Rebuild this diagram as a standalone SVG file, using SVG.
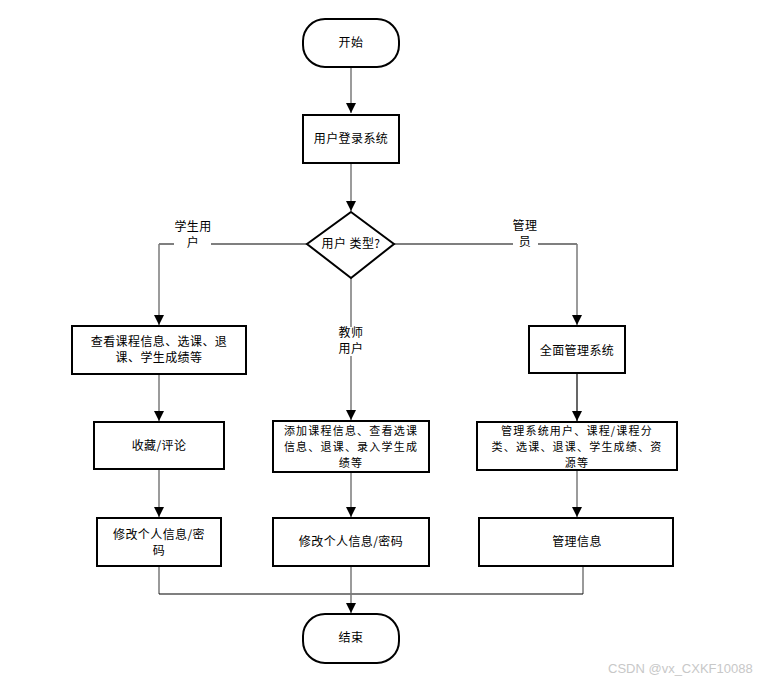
<svg xmlns="http://www.w3.org/2000/svg" width="765" height="682" viewBox="0 0 765 682">
<style>
.box{fill:#fff;stroke:#000;stroke-width:2}
.t{font-family:"Noto Sans CJK SC","Liberation Sans",sans-serif;font-size:12px;fill:#000;text-anchor:middle;letter-spacing:0.4px}
.s{font-size:11px;letter-spacing:1.2px}
.v{fill:none;stroke:#7a7a7a;stroke-width:1.5}
.h{fill:none;stroke:#000;stroke-width:1.2}
.wm{font-family:"Liberation Sans",sans-serif;font-size:13px;fill:#c8c8c8}
</style>
<defs>
<marker id="arrd" markerUnits="userSpaceOnUse" markerWidth="10" markerHeight="11" refX="10" refY="5" orient="auto" viewBox="0 0 10 10">
<path d="M0,0 L10,5 L0,10 Z" fill="#000"/>
</marker>
</defs>
<rect width="765" height="682" fill="#fff"/>
<g id="connectors">
<path class="v" d="M351,67 V113" marker-end="url(#arrd)"/>
<path class="v" d="M351,163 V211" marker-end="url(#arrd)"/>
<path class="h" d="M307,244 H211 M174,244 H159"/>
<path class="v" d="M159,244 V325" marker-end="url(#arrd)"/>
<path class="h" d="M394,244 H513 M538,244 H577"/>
<path class="v" d="M577,244 V325" marker-end="url(#arrd)"/>
<path class="v" d="M351,278 V327 M351,356 V420" marker-end="url(#arrd)"/>
<path class="v" d="M159,374 V421" marker-end="url(#arrd)"/>
<path class="v" d="M159,469 V517" marker-end="url(#arrd)"/>
<path class="h" d="M577,373 V421" marker-end="url(#arrd)"/>
<path class="v" d="M577,470 V517" marker-end="url(#arrd)"/>
<path class="v" d="M351,472 V517" marker-end="url(#arrd)"/>
<path class="v" d="M159,566 V594 M583,566 V594"/>
<path class="h" d="M159,594 H583"/>
<path class="v" d="M351,566 V613" marker-end="url(#arrd)"/>
<text class="t" x="193" y="231">学生用</text>
<text class="t" x="193" y="247">户</text>
<text class="t" x="525" y="230">管理</text>
<text class="t" x="525" y="246">员</text>
<text class="t" x="351" y="337">教师</text>
<text class="t" x="351" y="353">用户</text>
</g>
<g id="start">
<rect class="box" x="303" y="19" width="96" height="48" rx="22"/>
<text class="t" x="351" y="47">开始</text>
</g>
<g id="login">
<rect class="box" x="303" y="115" width="96" height="48"/>
<text class="t" x="351" y="143">用户登录系统</text>
</g>
<g id="decision">
<polygon class="box" points="351,212 394,244 351,278 307,244"/>
<text class="t" x="351" y="248">用户 类型?</text>
</g>
<g id="student1">
<rect class="box" x="72" y="326" width="174" height="48"/>
<text class="t" x="159" y="346">查看课程信息、选课、退</text>
<text class="t" x="159" y="362">课、学生成绩等</text>
</g>
<g id="student2">
<rect class="box" x="94" y="422" width="130" height="47"/>
<text class="t" x="159" y="450">收藏/评论</text>
</g>
<g id="student3">
<rect class="box" x="97" y="518" width="124" height="48"/>
<text class="t" x="159" y="539">修改个人信息/密</text>
<text class="t" x="159" y="555">码</text>
</g>
<g id="teacher1">
<rect class="box" x="273" y="421" width="156" height="51"/>
<text class="t s" x="351" y="435">添加课程信息、查看选课</text>
<text class="t s" x="351" y="451">信息、退课、录入学生成</text>
<text class="t s" x="351" y="467">绩等</text>
</g>
<g id="teacher2">
<rect class="box" x="273" y="518" width="156" height="48"/>
<text class="t" x="351" y="546">修改个人信息/密码</text>
</g>
<g id="admin1">
<rect class="box" x="529" y="326" width="96" height="47"/>
<text class="t" x="577" y="355">全面管理系统</text>
</g>
<g id="admin2">
<rect class="box" x="477" y="422" width="200" height="48"/>
<text class="t s" x="577" y="435">管理系统用户、课程/课程分</text>
<text class="t s" x="577" y="451">类、选课、退课、学生成绩、资</text>
<text class="t s" x="577" y="467">源等</text>
</g>
<g id="admin3">
<rect class="box" x="479" y="518" width="194" height="48"/>
<text class="t" x="577" y="546">管理信息</text>
</g>
<g id="end">
<rect class="box" x="303" y="614" width="96" height="49" rx="22"/>
<text class="t" x="351" y="642">结束</text>
</g>
<text class="wm" x="608" y="673">CSDN @vx_CXKF10088</text>
</svg>
